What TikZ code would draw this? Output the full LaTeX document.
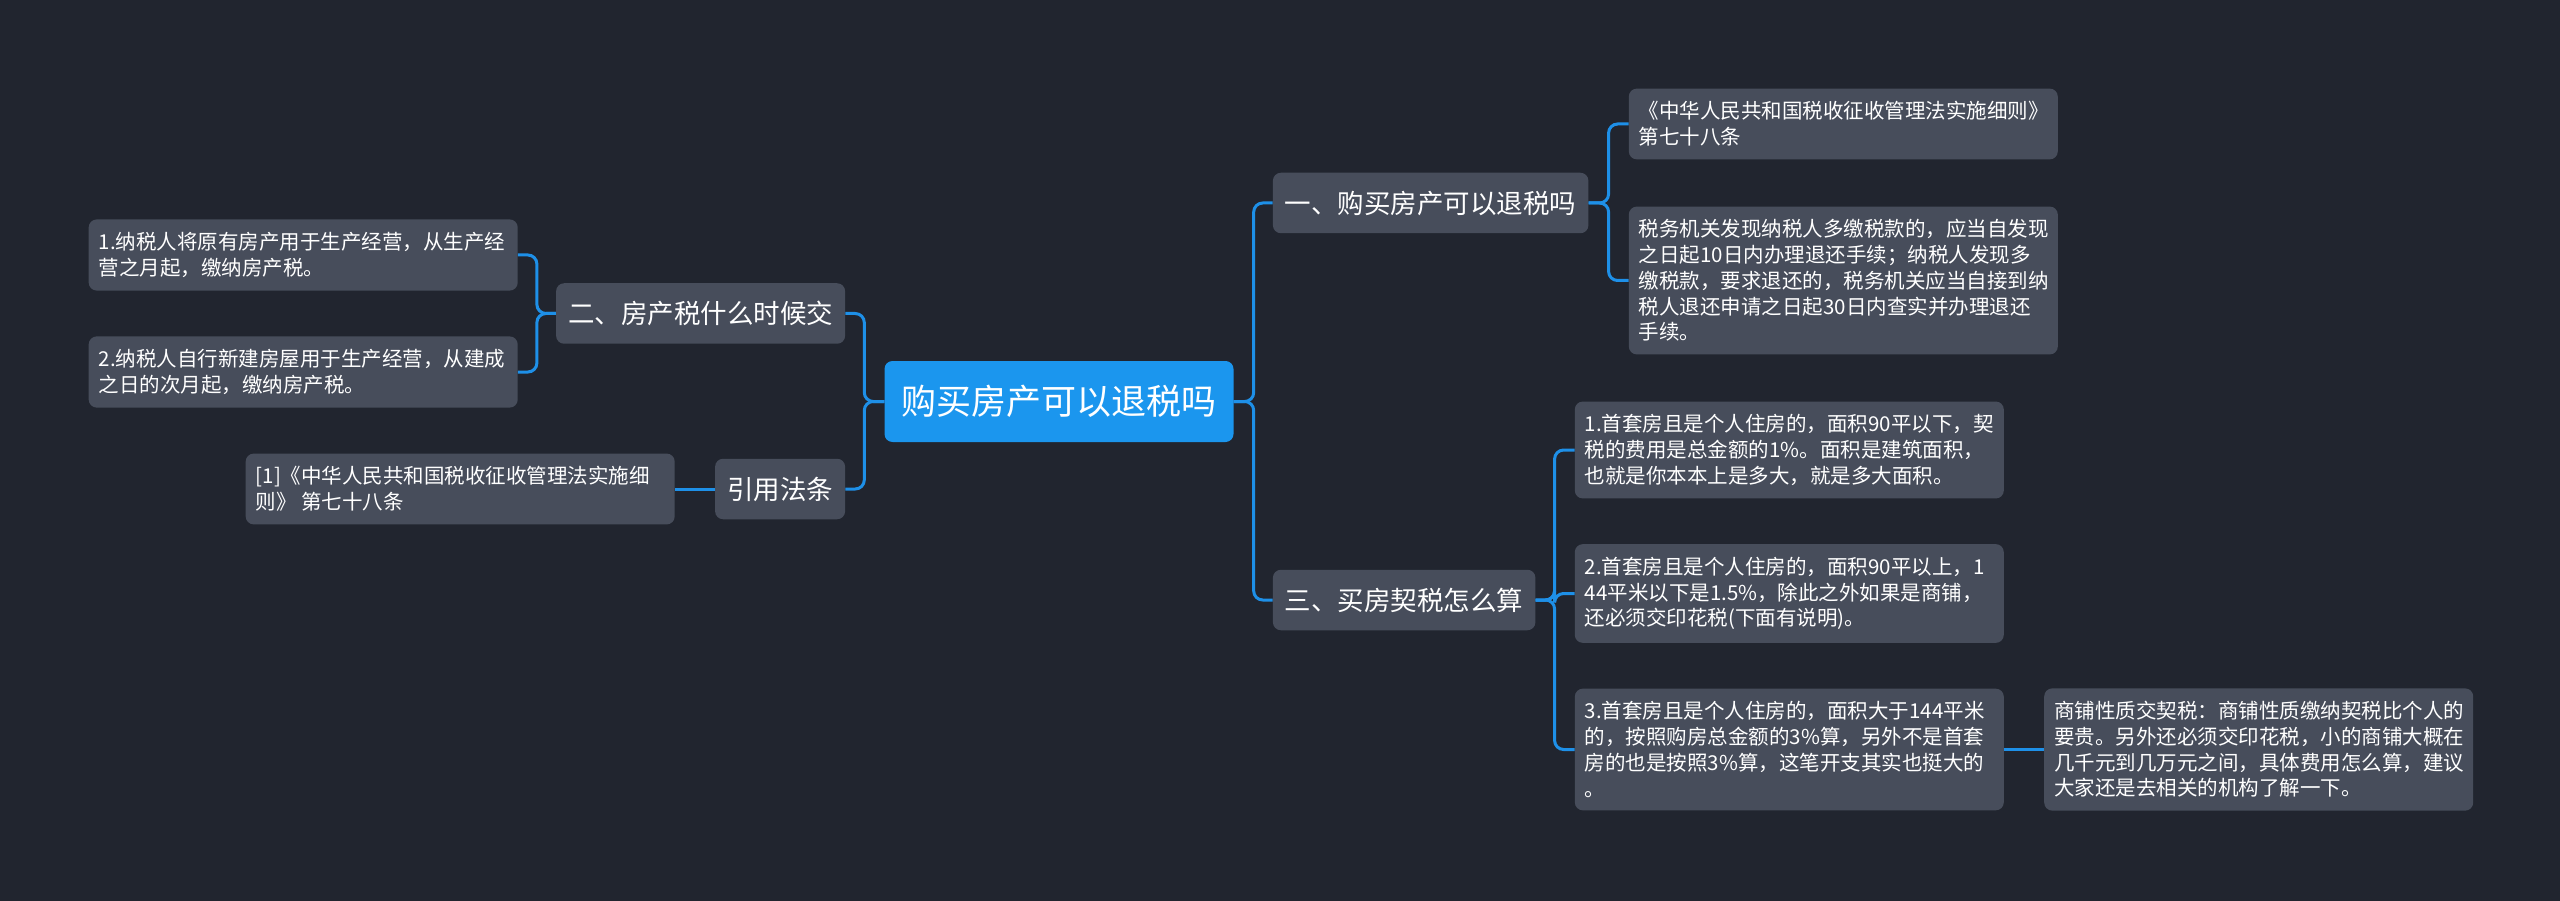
\documentclass[tikz,border=0pt]{standalone}
\usepackage{fontspec}
\newfontfamily\cjk{Noto Sans CJK SC}
\usepackage{tikz}
\usetikzlibrary{matrix}
\usetikzlibrary{positioning}
\definecolor{bgdark}{HTML}{21252F}
\definecolor{nodegray}{HTML}{474D5B}
\definecolor{rootblue}{HTML}{1B96EE}
\definecolor{linkblue}{HTML}{1E90E8}
\tikzset{rootnode/.style={rectangle,
                        rounded corners=8pt,
                        fill=rootblue,
                        matrix of nodes,
                        inner xsep=17pt,
                        inner ysep=23pt,
                        nodes={anchor=center, inner sep=0pt, outer sep=0pt, text=white,
                               font=\cjk\fontsize{35}{42}\selectfont,
                               text height=30.8pt, text depth=4.2pt}
                        },
        topicnode/.style={rectangle,
                        rounded corners=8pt,
                        fill=nodegray,
                        matrix of nodes,
                        inner xsep=12pt,
                        inner ysep=17pt,
                        nodes={anchor=center, inner sep=0pt, outer sep=0pt, text=white,
                               font=\cjk\fontsize{26.5}{32}\selectfont,
                               text height=23.3pt, text depth=3.2pt}
        },
        leafnode/.style={rectangle,
                        rounded corners=8pt,
                        fill=nodegray,
                        matrix of nodes,
                        inner xsep=10pt,
                        inner ysep=13pt,
                        nodes={anchor=center, inner sep=0pt, outer sep=0pt, text=white,
                               font=\cjk\fontsize{20.5}{25.7}\selectfont}
        },
        link/.style={draw=linkblue, line width=3pt, rounded corners=9pt},
}

\begin{document}
\begin{tikzpicture}
    [x=1pt,y=-1pt]

    \fill[bgdark] (0,0) rectangle (2560,901);

    % CENTRE
    \matrix[rootnode] (root) at (1059,401.5) {
        购买房产可以退税吗 \\
    };

    % RIGHT SIDE
    \matrix[topicnode, right=39pt of root, yshift=198.5pt] (buyTax) {
        一、购买房产可以退税吗 \\
    };

    \matrix[leafnode, right=40pt of buyTax, yshift=79pt] (lawRule) {
        \parbox{409pt}{《中华人民共和国税收征收管理法实施细则》\\第七十八条} \\
    };

    \matrix[leafnode, right=40pt of buyTax, yshift=-77.5pt] (refundRule) {
        \parbox{409pt}{税务机关发现纳税人多缴税款的，应当自发现\\之日起10日内办理退还手续；纳税人发现多\\缴税款，要求退还的，税务机关应当自接到纳\\税人退还申请之日起30日内查实并办理退还\\手续。} \\
    };

    \matrix[topicnode, right=39pt of root, yshift=-198.5pt] (deedTax) {
        三、买房契税怎么算 \\
    };

    \matrix[leafnode, right=39pt of deedTax, yshift=150pt] (caseSmall) {
        \parbox{409pt}{1.首套房且是个人住房的，面积90平以下，契\\税的费用是总金额的1\%。面积是建筑面积，\\也就是你本本上是多大，就是多大面积。} \\
    };

    \matrix[leafnode, right=39pt of deedTax, yshift=6.5pt] (caseMiddle) {
        \parbox{409pt}{2.首套房且是个人住房的，面积90平以上，1\\44平米以下是1.5\%，除此之外如果是商铺，\\还必须交印花税(下面有说明)。} \\
    };

    \matrix[leafnode, right=39pt of deedTax, yshift=-149.5pt] (caseLarge) {
        \parbox{409pt}{3.首套房且是个人住房的，面积大于144平米\\的，按照购房总金额的3\%算，另外不是首套\\房的也是按照3\%算，这笔开支其实也挺大的\\。} \\
    };

    \matrix[leafnode, right=40pt of caseLarge] (shopTax) {
        \parbox{409pt}{商铺性质交契税：商铺性质缴纳契税比个人的\\要贵。另外还必须交印花税，小的商铺大概在\\几千元到几万元之间，具体费用怎么算，建议\\大家还是去相关的机构了解一下。} \\
    };

    % LEFT SIDE
    \matrix[topicnode, left=39pt of root, yshift=88pt] (whenPay) {
        二、房产税什么时候交 \\
    };

    \matrix[leafnode, left=38pt of whenPay, yshift=58.5pt] (ownUse) {
        \parbox{409pt}{1.纳税人将原有房产用于生产经营，从生产经\\营之月起，缴纳房产税。} \\
    };

    \matrix[leafnode, left=38pt of whenPay, yshift=-58.5pt] (newBuild) {
        \parbox{409pt}{2.纳税人自行新建房屋用于生产经营，从建成\\之日的次月起，缴纳房产税。} \\
    };

    \matrix[topicnode, left=39pt of root, yshift=-87.5pt] (lawCite) {
        引用法条 \\
    };

    \matrix[leafnode, left=40pt of lawCite] (lawRef) {
        \parbox{409pt}{[1]《中华人民共和国税收征收管理法实施细\\则》 第七十八条} \\
    };

    % LINKS
    \draw[link] (root.east) -- ++(20,0) |- (buyTax.west);
    \draw[link] (root.east) -- ++(20,0) |- (deedTax.west);
    \draw[link] (root.west) -- ++(-20,0) |- (whenPay.east);
    \draw[link] (root.west) -- ++(-20,0) |- (lawCite.east);

    \draw[link] (buyTax.east) -- ++(20,0) |- (lawRule.west);
    \draw[link] (buyTax.east) -- ++(20,0) |- (refundRule.west);

    \draw[link] (deedTax.east) -- ++(19,0) |- (caseSmall.west);
    \draw[link] (deedTax.east) -- ++(19,0) |- (caseMiddle.west);
    \draw[link] (deedTax.east) -- ++(19,0) |- (caseLarge.west);
    \draw[link] (caseLarge) -- (shopTax);

    \draw[link] (whenPay.west) -- ++(-19,0) |- (ownUse.east);
    \draw[link] (whenPay.west) -- ++(-19,0) |- (newBuild.east);
    \draw[link] (lawCite) -- (lawRef);

\end{tikzpicture}
\end{document}
